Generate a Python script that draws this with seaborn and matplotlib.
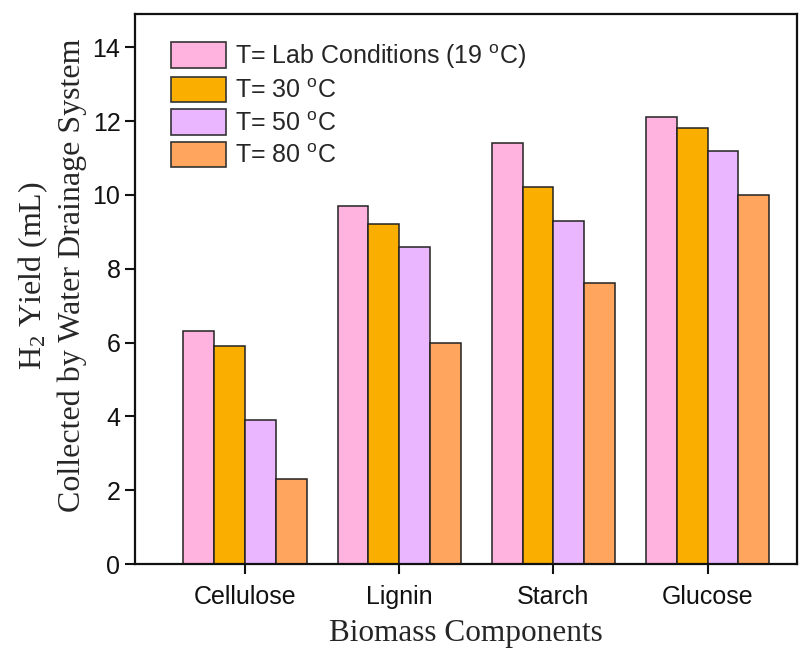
import pandas as pd
import matplotlib
matplotlib.use('Agg')
import matplotlib.pyplot as plt
import matplotlib.patches as mpatches
import seaborn as sns

# Data
components = ['Cellulose', 'Lignin', 'Starch', 'Glucose']
conditions = [r'T= Lab Conditions (19 $\mathregular{^{o}}$C)',
              r'T= 30 $\mathregular{^{o}}$C',
              r'T= 50 $\mathregular{^{o}}$C',
              r'T= 80 $\mathregular{^{o}}$C']
yield_lab = [6.3, 9.7, 11.4, 12.1]
yield_30 = [5.9, 9.2, 10.2, 11.8]
yield_50 = [3.9, 8.6, 9.3, 11.2]
yield_80 = [2.3, 6.0, 7.6, 10.0]
colors = ['#FFB3DE', '#F9AE00', '#EAB6FF', '#FFA55E']

rows = []
for cond, vals in zip(conditions, [yield_lab, yield_30, yield_50, yield_80]):
    for comp, v in zip(components, vals):
        rows.append({'Component': comp, 'Condition': cond, 'Yield': v})
df = pd.DataFrame(rows)

sns.set_style('ticks')
plt.rcParams['font.family'] = ['Liberation Sans', 'DejaVu Sans']

fig = plt.figure(figsize=(8.1, 6.5), dpi=100)
ax = fig.add_axes([0.1667, 0.1323, 0.8173, 0.8462])

sns.barplot(data=df, x='Component', y='Yield', hue='Condition',
            hue_order=conditions, order=components, palette=colors,
            width=0.8, edgecolor='#222222', linewidth=1.1,
            saturation=1, legend=False, ax=ax)

ax.set_ylim(0, 14.9)
ax.set_xlim(-0.714, 3.58)
ax.set_yticks([0, 2, 4, 6, 8, 10, 12, 14])
ax.tick_params(axis='both', direction='out', length=7, width=1.5,
               labelsize=18, colors='#111111')
ax.tick_params(axis='x', pad=8)
for lab in ax.get_xticklabels() + ax.get_yticklabels():
    lab.set_color('#111111')
for sp in ax.spines.values():
    sp.set_visible(True)
    sp.set_linewidth(1.6)
    sp.set_color('#111111')

ax.set_xlabel('Biomass Components', family='Liberation Serif', fontsize=22.5,
              labelpad=7)
ax.set_ylabel('$\\mathregular{H_2}$ Yield (mL)\nCollected by Water Drainage System',
              family='Liberation Serif', fontsize=23, linespacing=1.3)
ax.yaxis.set_label_coords(-0.073, 0.525)

handles = [mpatches.Patch(facecolor=c, edgecolor='#333333', linewidth=1.2, label=l)
           for c, l in zip(colors, conditions)]
ax.legend(handles=handles, loc='upper left', frameon=False, fontsize=18,
          handlelength=2.2, handleheight=1.2, labelspacing=0.25,
          handletextpad=0.35, borderaxespad=0.5, bbox_to_anchor=(0.02, 0.99))

fig.savefig('out.png', dpi=100)
